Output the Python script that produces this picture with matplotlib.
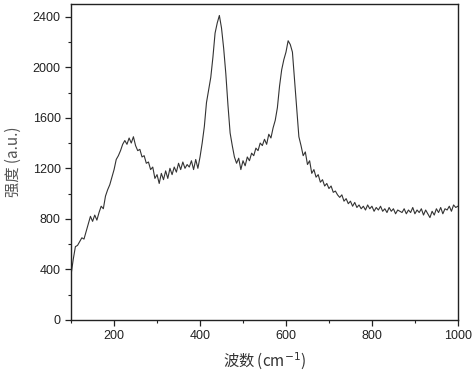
import numpy as np
import matplotlib
matplotlib.use("Agg")
import matplotlib.pyplot as plt
from matplotlib.ticker import MultipleLocator

# 拉曼光谱数据 (波数 100-1000, 步长 5)
wavenumber = np.arange(100, 1001, 5)
intensity = [
    360, 480, 580, 590, 620, 650, 640, 700, 760, 820,
    780, 830, 790, 850, 900, 880, 980, 1030, 1070, 1130,
    1190, 1270, 1300, 1340, 1390, 1420, 1390, 1440, 1400, 1450,
    1380, 1340, 1350, 1290, 1300, 1240, 1250, 1190, 1210, 1120,
    1150, 1080, 1160, 1110, 1180, 1120, 1200, 1150, 1210, 1170,
    1240, 1190, 1250, 1200, 1230, 1210, 1260, 1190, 1270, 1200,
    1290, 1400, 1530, 1720, 1820, 1920, 2080, 2270, 2350, 2410,
    2310, 2150, 1950, 1700, 1480, 1380, 1290, 1240, 1280, 1190,
    1260, 1220, 1290, 1260, 1320, 1300, 1360, 1340, 1400, 1380,
    1430, 1390, 1470, 1440, 1520, 1580, 1680, 1850, 1980, 2060,
    2120, 2210, 2180, 2120, 1900, 1680, 1450, 1380, 1300, 1330,
    1230, 1260, 1160, 1190, 1130, 1150, 1090, 1110, 1060, 1080,
    1040, 1060, 1010, 1020, 990, 970, 990, 940, 960, 920,
    940, 900, 930, 890, 910, 880, 900, 870, 910, 880,
    900, 860, 890, 870, 900, 860, 880, 850, 890, 860,
    880, 840, 870, 860, 850, 880, 840, 870, 850, 890,
    840, 870, 850, 880, 830, 870, 840, 810, 860, 830,
    880, 850, 890, 840, 880, 870, 900, 860, 910, 890,
    900,
]

plt.rcParams['font.family'] = ['Liberation Sans', 'Noto Sans CJK SC', 'DejaVu Sans']

fig = plt.figure(figsize=(4.74, 3.72), dpi=100)
ax = fig.add_axes([0.150, 0.140, 0.816, 0.849])
ax.plot(wavenumber, intensity, color='#333333', lw=0.8)

ax.set_xlim(100, 1000)
ax.set_ylim(0, 2500)
ax.xaxis.set_major_locator(MultipleLocator(200))
ax.xaxis.set_minor_locator(MultipleLocator(100))
ax.yaxis.set_major_locator(MultipleLocator(400))
ax.yaxis.set_minor_locator(MultipleLocator(200))
ax.tick_params(which='both', direction='out', labelsize=9, colors='#222222')
ax.tick_params(which='major', length=4, width=0.9)
ax.tick_params(which='minor', length=2.5, width=0.8)
for s in ax.spines.values():
    s.set_linewidth(1.0)
    s.set_color('#222222')

ax.set_xlabel("波数 (cm$^{-1}$)", fontsize=11, color='#333333',
              family=['Noto Sans CJK SC', 'DejaVu Sans'], labelpad=6)
ax.set_ylabel("强度 (a.u.)", fontsize=11, color='#555555',
              family=['Noto Sans CJK SC', 'DejaVu Sans'], labelpad=8)

fig.savefig("out.png", dpi=100)
